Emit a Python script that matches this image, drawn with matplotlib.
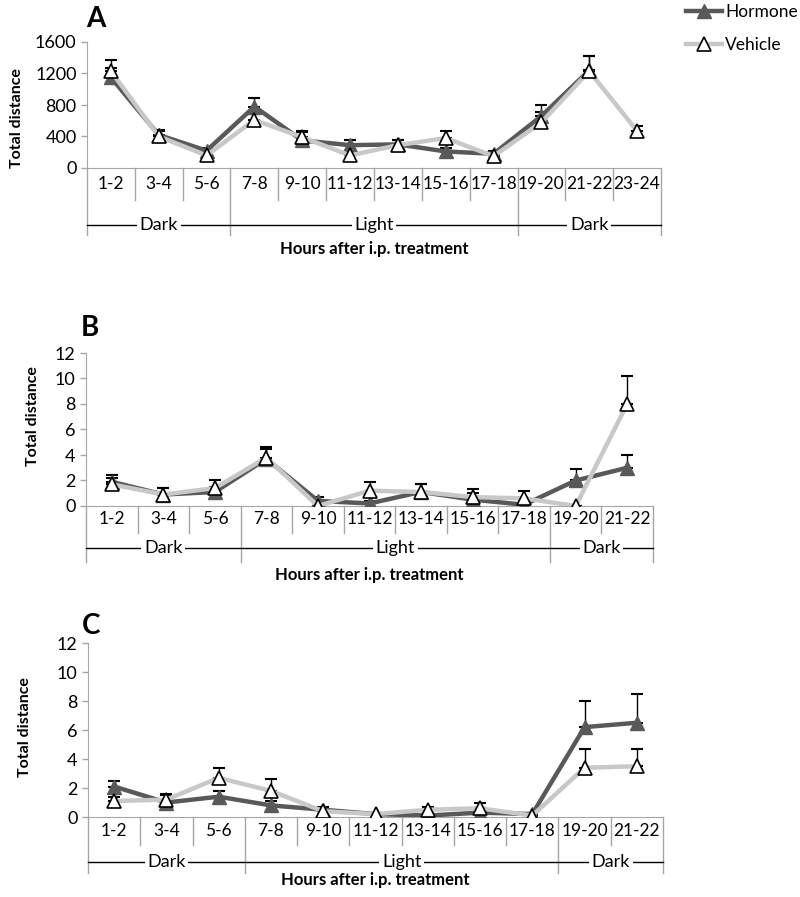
import numpy as np
import matplotlib
matplotlib.use("Agg")
import matplotlib.pyplot as plt

plt.rcParams['font.family'] = ['Lato', 'DejaVu Sans']

# ---- data ----
cats_a = ["1-2", "3-4", "5-6", "7-8", "9-10", "11-12", "13-14", "15-16", "17-18", "19-20", "21-22", "23-24"]
cats_bc = cats_a[:11]

hormone_a = [1150, 420, 220, 780, 350, 290, 300, 210, 180, 660, 1240, np.nan]
vehicle_a = [1230, 400, 160, 610, 390, 160, 290, 380, 150, 580, 1230, 470]
hormone_a_err = [120, 60, 40, 110, 110, 70, 60, 40, 40, 140, 180, np.nan]
vehicle_a_err = [140, 70, 40, 90, 80, 50, 70, 90, 40, 130, 190, 60]

hormone_b = [1.9, 0.9, 1.1, 3.7, 0.4, 0.2, 1.1, 0.5, 0.1, 2.0, 3.0]
vehicle_b = [1.7, 0.9, 1.4, 3.8, 0.0, 1.2, 1.1, 0.7, 0.6, 0.0, 8.0]
hormone_b_err = [0.5, 0.5, 0.4, 0.8, 0.3, 0.2, 0.6, 0.5, 0.3, 0.9, 1.0]
vehicle_b_err = [0.5, 0.5, 0.6, 0.8, 0.3, 0.7, 0.6, 0.6, 0.6, 0.0, 2.2]

hormone_c = [2.1, 1.0, 1.4, 0.8, 0.5, 0.2, 0.1, 0.3, 0.2, 6.2, 6.5]
vehicle_c = [1.1, 1.2, 2.7, 1.8, 0.4, 0.2, 0.5, 0.6, 0.1, 3.4, 3.5]
hormone_c_err = [0.4, 0.5, 0.4, 0.3, 0.2, 0.1, 0.2, 0.2, 0.1, 1.8, 2.0]
vehicle_c_err = [0.3, 0.4, 0.7, 0.8, 0.2, 0.1, 0.2, 0.4, 0.2, 1.3, 1.2]

groups_a = [("Dark", 0, 2), ("Light", 3, 8), ("Dark", 9, 11)]
groups_bc = [("Dark", 0, 2), ("Light", 3, 8), ("Dark", 9, 10)]

W, H = 800, 897
DARK = "#595959"
LIGHT = "#c8c8c8"
GRID = "#a6a6a6"
FS = 12.5

fig = plt.figure(figsize=(W / 100, H / 100), dpi=100)


def make_ax(left, top, right, bottom):
    return fig.add_axes([left / W, 1 - bottom / H, (right - left) / W, (bottom - top) / H])


def panel(ax, top, bottom, cats, hor, veh, herr, verr, groups, ymax, ystep,
          cat_b, line_y, grp_b, title_y, letter, letter_xy, ylab_xy):
    n = len(cats)
    x = np.arange(n)
    fy = lambda py: (bottom - py) / (bottom - top)
    tr = ax.get_xaxis_transform()

    hor = np.array(hor, dtype=float)
    veh = np.array(veh, dtype=float)
    herr = np.array(herr, dtype=float)
    verr = np.array(verr, dtype=float)

    ax.errorbar(x, hor, yerr=[np.zeros(n), herr], fmt='none', ecolor='black',
                elinewidth=1, capsize=4, capthick=1.5, zorder=2)
    ax.errorbar(x, veh, yerr=[np.zeros(n), verr], fmt='none', ecolor='black',
                elinewidth=1, capsize=4, capthick=1.5, zorder=2)
    lh, = ax.plot(x, hor, color=DARK, lw=3.2, marker='^', ms=10.5, mfc=DARK, mec=DARK,
                  zorder=3, label="Hormone")
    lv, = ax.plot(x, veh, color=LIGHT, lw=3.2, marker='^', ms=10.5, mfc='white', mec='black',
                  mew=1.2, zorder=4, label="Vehicle")

    ax.set_xlim(-0.5, n - 0.5)
    ax.set_ylim(0, ymax)
    ax.set_yticks(np.arange(0, ymax + 1e-9, ystep))
    ax.set_xticks([])
    for s in ['top', 'right']:
        ax.spines[s].set_visible(False)
    ax.spines['left'].set_color(GRID)
    ax.spines['bottom'].set_color(GRID)
    ax.tick_params(axis='y', colors=GRID, labelcolor='black', labelsize=13, length=4, width=1)

    # category row
    for k in range(n):
        ax.text(k, fy((bottom + cat_b) / 2), cats[k], transform=tr, ha='center', va='center',
                fontsize=FS)
    bounds = [g[1] - 0.5 for g in groups] + [n - 0.5]
    for k in range(n + 1):
        xb = k - 0.5
        low = grp_b if xb in bounds else cat_b
        ax.plot([xb, xb], [0, fy(low)], transform=tr, color=GRID, lw=1, clip_on=False, zorder=1)

    # dark / light row
    ax.plot([-0.5, n - 0.5], [fy(line_y)] * 2, transform=tr, color='black', lw=1, clip_on=False)
    for lab, a, b in groups:
        ax.text((a + b) / 2, fy(line_y), lab, transform=tr, ha='center', va='center', fontsize=13,
                bbox=dict(facecolor='white', edgecolor='none', pad=2), zorder=5)

    ax.text((n - 1) / 2, fy(title_y), "Hours after i.p. treatment", transform=tr, ha='center',
            va='center', fontsize=12, fontweight='bold')
    fig.text(letter_xy[0] / W, 1 - letter_xy[1] / H, letter, fontsize=20, fontweight='bold',
             ha='left', va='center')
    fig.text(ylab_xy[0] / W, 1 - ylab_xy[1] / H, "Total distance", fontsize=11.5, fontweight='bold',
             rotation=90, ha='center', va='center')
    return lh, lv


ax_a = make_ax(87, 42, 661, 168)
lh, lv = panel(ax_a, 42, 168, cats_a, hormone_a, vehicle_a, hormone_a_err, vehicle_a_err, groups_a,
               1600, 400, 200, 225, 235, 249, "A", (86, 19), (17, 118))

ax_b = make_ax(86, 353, 653, 506)
panel(ax_b, 353, 506, cats_bc, hormone_b, vehicle_b, hormone_b_err, vehicle_b_err, groups_bc,
      12, 2, 533, 548, 562, 575, "B", (81, 328), (33, 416))

ax_c = make_ax(88, 643, 663, 817)
panel(ax_c, 643, 817, cats_bc, hormone_c, vehicle_c, hormone_c_err, vehicle_c_err, groups_bc,
      12, 2, 845, 862, 873, 880, "C", (82, 626), (25, 727))

fig.legend(handles=[lh, lv], loc='upper left', bbox_to_anchor=(686 / W, 1 - 4 / H),
           frameon=False, fontsize=12.5, handlelength=2.1, handletextpad=0.15,
           labelspacing=1.0, borderpad=0, borderaxespad=0)

fig.savefig("out.png", dpi=100)
